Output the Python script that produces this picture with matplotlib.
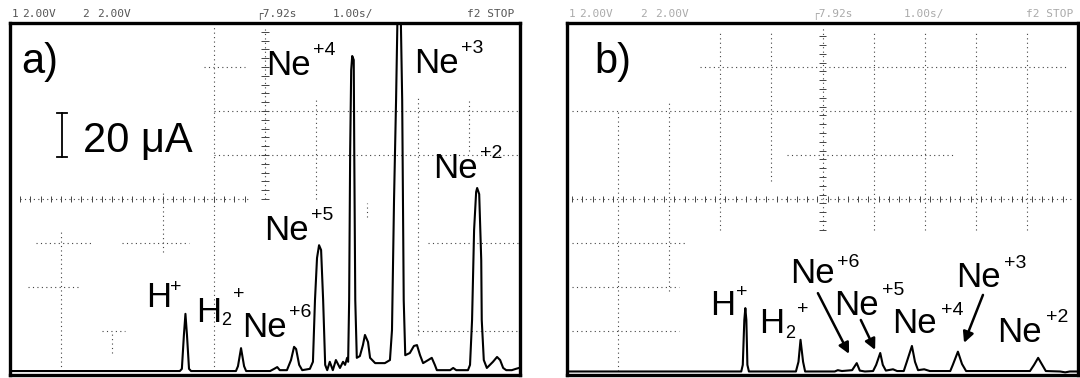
import matplotlib.pyplot as plt
import numpy as np

plt.rcParams['font.family'] = ['Liberation Sans', 'DejaVu Sans']

# scope traces: time in divisions (1.00 s/div), signal in divisions (20 uA/div)
time_a = [0.04, 3.33, 3.37, 3.41, 3.44, 3.47, 3.51, 3.55,
          4.43, 4.47, 4.53, 4.59, 4.63,
          5.10, 5.18, 5.24, 5.29, 5.43, 5.51, 5.57, 5.61, 5.67, 5.73,
          5.88, 5.94, 5.98, 6.02, 6.06, 6.10, 6.14, 6.18, 6.22,
          6.27, 6.33, 6.39, 6.47, 6.53, 6.57, 6.61, 6.63,
          6.65, 6.67, 6.69, 6.71, 6.74, 6.75, 6.77, 6.80,
          6.86, 6.92, 6.96, 7.02, 7.06, 7.16, 7.35, 7.45, 7.49,
          7.53, 7.57, 7.60, 7.63, 7.66, 7.69, 7.72, 7.75,
          7.84, 7.92, 7.98, 8.04, 8.10, 8.20, 8.27, 8.33, 8.37, 8.63, 8.69, 8.75, 8.98, 9.02,
          9.06, 9.10, 9.14, 9.16, 9.20, 9.24, 9.25, 9.29, 9.35,
          9.47, 9.55, 9.61, 9.67, 9.73, 9.84, 9.92, 9.98]
signal_a = [0.09, 0.09, 0.14, 0.91, 1.39, 0.91, 0.14, 0.09,
            0.09, 0.20, 0.61, 0.20, 0.09,
            0.09, 0.14, 0.18, 0.11, 0.11, 0.34, 0.64, 0.59, 0.23, 0.11,
            0.14, 0.30, 1.70, 2.66, 2.95, 2.84, 1.70, 0.23, 0.11,
            0.30, 0.11, 0.34, 0.16, 0.30, 0.23, 0.39, 0.30,
            1.70, 5.11, 6.93, 7.25, 7.16, 5.11, 1.70, 0.39,
            0.43, 0.68, 0.91, 0.75, 0.39, 0.27, 0.27, 0.34, 1.02,
            3.98, 6.25, 8.30, 9.43, 8.30, 6.25, 1.70, 0.45,
            0.50, 0.66, 0.68, 0.45, 0.27, 0.34, 0.39, 0.23, 0.11, 0.11, 0.16, 0.11, 0.11, 0.23,
            1.25, 3.30, 4.16, 4.25, 4.11, 2.61, 1.25, 0.34, 0.16,
            0.30, 0.41, 0.34, 0.16, 0.11, 0.11, 0.14, 0.16]

time_b = [0.00, 3.41, 3.44, 3.47, 3.49, 3.51, 3.53, 3.56,
          4.48, 4.53, 4.57, 4.62, 4.66,
          5.24, 5.30, 5.38, 5.58, 5.67, 5.73, 5.83,
          5.99, 6.05, 6.13, 6.18, 6.24, 6.38, 6.46,
          6.59, 6.65, 6.75, 6.81, 6.87, 6.99, 7.10,
          7.50, 7.55, 7.65, 7.73, 7.81,
          9.06, 9.14, 9.22, 9.30, 9.37,
          9.65, 9.75, 9.84, 9.96]
signal_b = [0.08, 0.08, 0.23, 1.25, 1.52, 1.25, 0.23, 0.08,
            0.08, 0.30, 0.80, 0.30, 0.08,
            0.08, 0.11, 0.09, 0.11, 0.27, 0.10, 0.08,
            0.09, 0.23, 0.50, 0.23, 0.10, 0.13, 0.09,
            0.09, 0.30, 0.66, 0.30, 0.11, 0.13, 0.09,
            0.09, 0.23, 0.53, 0.25, 0.09,
            0.09, 0.23, 0.39, 0.23, 0.09,
            0.08, 0.06, 0.08, 0.08]

# peak labels: (text, x, y, fontsize)
labels_a = [('a)', 0.22, 6.86, 30), ('20 μA', 1.43, 5.07, 30),
            ('Ne', 5.03, 6.82, 25), ('+4', 5.94, 7.27, 14),
            ('Ne', 7.93, 6.86, 25), ('+3', 8.84, 7.32, 14),
            ('Ne', 8.30, 4.48, 25), ('+2', 9.22, 4.93, 14),
            ('Ne', 4.99, 3.07, 25), ('+5', 5.90, 3.52, 14),
            ('Ne', 4.56, 0.86, 25), ('+6', 5.47, 1.32, 14),
            ('H', 2.67, 1.55, 25), ('+', 3.14, 1.89, 14),
            ('H', 3.65, 1.20, 25), ('2', 4.13, 1.14, 13), ('+', 4.37, 1.73, 14)]
labels_b = [('b)', 0.53, 6.86, 30),
            ('H', 2.80, 1.36, 25), ('+', 3.31, 1.77, 14),
            ('H', 3.76, 0.95, 25), ('2', 4.27, 0.84, 13), ('+', 4.50, 1.39, 14),
            ('Ne', 4.37, 2.09, 25), ('+6', 5.28, 2.45, 14),
            ('Ne', 5.23, 1.36, 25), ('+5', 6.16, 1.82, 14),
            ('Ne', 6.37, 0.95, 25), ('+4', 7.32, 1.36, 14),
            ('Ne', 7.62, 2.00, 25), ('+3', 8.55, 2.43, 14),
            ('Ne', 8.42, 0.75, 25), ('+2', 9.37, 1.20, 14)]
# arrows in b): (x0, y0, x1, y1)
arrows_b = [(4.91, 1.86, 5.52, 0.48), (5.75, 1.25, 6.03, 0.57), (8.14, 1.82, 7.77, 0.73)]

# visible parts of the scope graticule: (position, start, end)
hgrid_a = [(7, 3.8, 4.6), (6, 4.0, 10), (5, 4.0, 10), (4, 0.2, 4.7),
           (3, 0.5, 1.6), (3, 2.2, 3.5), (3, 8.2, 10), (2, 0.35, 1.35),
           (1, 1.8, 2.25), (1, 8.0, 10)]
vgrid_a = [(1, 0.1, 3.3), (2, 0.5, 1.0), (3, 2.8, 4.2), (4, 0.1, 7.9),
           (5, 4.0, 7.9), (6, 4.0, 6.3), (7, 3.6, 3.9), (8, 0.9, 6.3), (9, 5.1, 6.3)]
hgrid_b = [(7, 2.6, 9.8), (6, 0.1, 9.9), (5, 4.3, 7.6), (4, 0.1, 9.9),
           (3, 0.1, 2.3), (2, 0.1, 2.2), (1, 0.1, 2.2)]
vgrid_b = [(1, 0.1, 6.0), (2, 1.9, 6.2), (3, 3.3, 7.8), (4, 4.4, 7.8),
           (5, 3.3, 7.9), (6, 3.3, 7.8), (7, 3.3, 7.8), (8, 3.3, 7.8), (9, 3.3, 7.8)]

header_a = [('1', 12), ('2.00V', 22), ('2', 82), ('2.00V', 97), ('┌7.92s', 256),
            ('1.00s/', 333), ('f2 STOP', 467)]
header_b = [('1', 569), ('2.00V', 579), ('2', 640), ('2.00V', 655), ('┌7.92s', 812),
            ('1.00s/', 904), ('f2 STOP', 1026)]


def draw_grid(ax, hgrid, vgrid, ticks_h, ticks_v):
    dots = dict(color='#444444', lw=0.8, ls=(0, (1, 3)))
    for y, x0, x1 in hgrid:
        ax.plot([x0, x1], [y, y], **dots)
    for x, y0, y1 in vgrid:
        ax.plot([x, x], [y0, y1], **dots)
    tx = np.arange(ticks_h[0], ticks_h[1], 0.2)
    ax.vlines(tx, 4 - 0.07, 4 + 0.07, color='#444444', lw=0.7)
    ty = np.arange(ticks_v[0], ticks_v[1], 0.2)
    ax.hlines(ty, 5 - 0.07, 5 + 0.07, color='#444444', lw=0.7)


fig = plt.figure(figsize=(10.8, 3.78), dpi=100)
ax_a = fig.add_axes([10 / 1080, 3 / 378, 510 / 1080, 352 / 378])
ax_b = fig.add_axes([567 / 1080, 3 / 378, 511 / 1080, 352 / 378])

for ax in (ax_a, ax_b):
    ax.set_xlim(0, 10)
    ax.set_ylim(0, 8)
    ax.set_xticks([])
    ax.set_yticks([])
    for s in ax.spines.values():
        s.set_linewidth(2.4)

draw_grid(ax_a, hgrid_a, vgrid_a, (0.2, 4.7), (4.0, 7.9))
draw_grid(ax_b, hgrid_b, vgrid_b, (0.1, 9.9), (3.3, 7.9))

ax_a.plot(time_a, signal_a, color='black', lw=1.5, solid_joinstyle='round')
ax_b.plot(time_b, signal_b, color='black', lw=1.5, solid_joinstyle='round')

for txt, x, y, size in labels_a:
    ax_a.text(x, y, txt, fontsize=size, ha='left', va='baseline')
for txt, x, y, size in labels_b:
    ax_b.text(x, y, txt, fontsize=size, ha='left', va='baseline')

# 20 uA scale bar (one division)
scale_bar = 1.0
ax_a.plot([1.02, 1.02], [4.95, 4.95 + scale_bar], color='black', lw=1.3)
ax_a.plot([0.92, 1.12], [4.95, 4.95], color='black', lw=1.3)
ax_a.plot([0.92, 1.12], [4.95 + scale_bar, 4.95 + scale_bar], color='black', lw=1.3)

for x0, y0, x1, y1 in arrows_b:
    ax_b.annotate('', xy=(x1, y1), xytext=(x0, y0),
                  arrowprops=dict(arrowstyle='-|>', color='black', lw=1.8,
                                  mutation_scale=16, shrinkA=0, shrinkB=0))

for txt, x in header_a:
    fig.text(x / 1080, 1 - 14 / 378, txt, fontsize=8, family='DejaVu Sans Mono',
             color='#555555', va='center', ha='left')
for txt, x in header_b:
    fig.text(x / 1080, 1 - 14 / 378, txt, fontsize=8, family='DejaVu Sans Mono',
             color='#aaaaaa', va='center', ha='left')

fig.savefig('out.png', dpi=100)
